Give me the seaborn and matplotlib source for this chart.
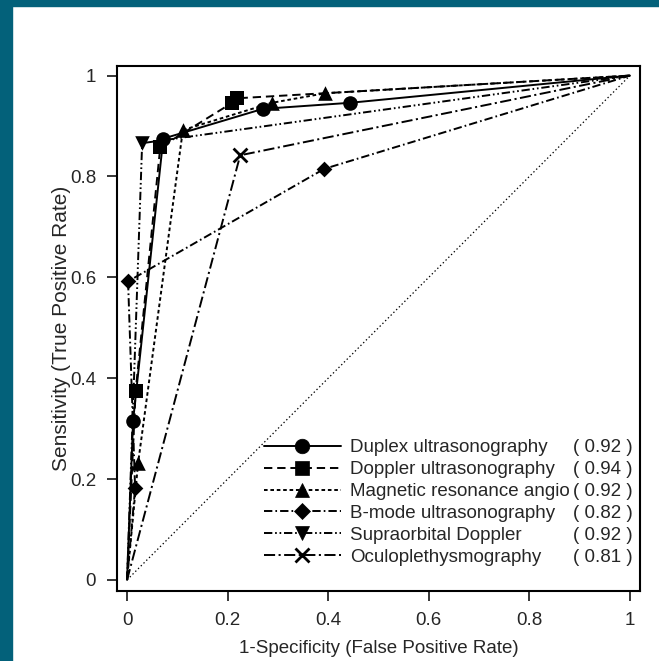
import matplotlib
matplotlib.use("Agg")
import matplotlib.pyplot as plt
from matplotlib.lines import Line2D
from matplotlib.patches import Rectangle
import seaborn as sns
import pandas as pd

# ROC operating points per test (false positive rate, true positive rate)
tests = [
    "Duplex ultrasonography",
    "Doppler ultrasonography",
    "Magnetic resonance angio",
    "B-mode ultrasonography",
    "Supraorbital Doppler",
    "Oculoplethysmography",
]
auc = [0.92, 0.94, 0.92, 0.82, 0.92, 0.81]

duplex_fpr = [0.0, 0.012, 0.072, 0.270, 0.443, 1.0]
duplex_tpr = [0.0, 0.316, 0.875, 0.934, 0.946, 1.0]

doppler_fpr = [0.0, 0.017, 0.066, 0.209, 0.219, 1.0]
doppler_tpr = [0.0, 0.374, 0.858, 0.946, 0.955, 1.0]

mra_fpr = [0.0, 0.022, 0.111, 0.288, 0.394, 1.0]
mra_tpr = [0.0, 0.232, 0.892, 0.946, 0.965, 1.0]

bmode_fpr = [0.0, 0.016, 0.002, 0.392, 1.0]
bmode_tpr = [0.0, 0.182, 0.592, 0.815, 1.0]

supra_fpr = [0.0, 0.030, 1.0]
supra_tpr = [0.0, 0.866, 1.0]

oculo_fpr = [0.0, 0.225, 1.0]
oculo_tpr = [0.0, 0.842, 1.0]

x_ticks = [0, 0.2, 0.4, 0.6, 0.8, 1]
y_ticks = [0, 0.2, 0.4, 0.6, 0.8, 1]
tick_labels = ["0", "0.2", "0.4", "0.6", "0.8", "1"]

series = [
    (duplex_fpr, duplex_tpr, "o", "-", 10.5),
    (doppler_fpr, doppler_tpr, "s", (0, (6, 3.5)), 9.5),
    (mra_fpr, mra_tpr, "^", (0, (2.6, 2)), 10.5),
    (bmode_fpr, bmode_tpr, "D", (0, (6, 2.2, 1.2, 2.2)), 8),
    (supra_fpr, supra_tpr, "v", (0, (6, 2, 1.2, 2, 1.2, 2)), 10.5),
    (oculo_fpr, oculo_tpr, "x", (0, (8, 2.5, 1.5, 2.5)), 10),
]

sns.set_style("white")
plt.rcParams["font.family"] = ["Liberation Sans", "DejaVu Sans"]
plt.rcParams["lines.scale_dashes"] = False

W, H = 659, 661
fig = plt.figure(figsize=(W / 100, H / 100), dpi=100)
ax = fig.add_axes([117 / W, 1 - 591 / H, 523 / W, 525 / H])

# chance diagonal
ax.plot([0, 1], [0, 1], color="black", lw=0.9, linestyle=(0, (1, 1.8)))

handles = []
for (fpr, tpr, mk, ls, ms), name in zip(series, tests):
    df = pd.DataFrame({"fpr": fpr, "tpr": tpr})
    sns.lineplot(data=df, x="fpr", y="tpr", sort=False, estimator=None,
                 color="black", lw=1.4, linestyle=ls, ax=ax)
    inner = df.iloc[1:-1]
    sns.scatterplot(data=inner, x="fpr", y="tpr", marker=mk, color="black",
                    s=ms ** 2, linewidth=2.0 if mk == "x" else 0,
                    edgecolor="black", ax=ax, zorder=5)
    handles.append(Line2D([0], [0], color="black", lw=1.4, linestyle=ls,
                          marker=mk, markersize=ms,
                          markeredgewidth=2.0 if mk == "x" else 0.5))

ax.set_xlim(-0.020, 1.020)
ax.set_ylim(-0.022, 1.019)
ax.set_xticks(x_ticks)
ax.set_xticklabels(tick_labels)
ax.set_yticks(y_ticks)
ax.set_yticklabels(tick_labels)
ax.tick_params(axis="both", direction="out", length=7, width=1.1, color="black",
               labelsize=13.5, pad=8, left=True, bottom=True)
for sp in ax.spines.values():
    sp.set_color("black")
    sp.set_linewidth(1.5)

ax.set_xlabel("1-Specificity (False Positive Rate)", fontsize=13.5, labelpad=8)
ax.set_ylabel("Sensitivity (True Positive Rate)", fontsize=15, labelpad=-1)

leg = ax.legend(handles, tests, loc="lower left", bbox_to_anchor=(0.277, 0.045),
                frameon=False, fontsize=13.5, handlelength=4.1, handletextpad=0.5,
                labelspacing=0.25, borderpad=0, borderaxespad=0)

# shift the legend so its label column starts at x=350px and the last row sits at y=557px
fig.canvas.draw()
renderer = fig.canvas.get_renderer()
bb = leg.get_texts()[-1].get_window_extent(renderer)
dx = 350 - bb.x0
dy = (H - 557) - (bb.y0 + bb.y1) / 2
ax_bb = ax.get_window_extent(renderer)
leg.set_bbox_to_anchor((0.277 + dx / ax_bb.width, 0.045 + dy / ax_bb.height),
                       transform=ax.transAxes)

fig.canvas.draw()
inv = ax.transAxes.inverted()
for txt, a in zip(leg.get_texts(), auc):
    tb = txt.get_window_extent(renderer)
    yc = inv.transform((0, (tb.y0 + tb.y1) / 2))[1]
    ax.text(0.986, yc, f"( {a:.2f} )", transform=ax.transAxes, ha="right",
            va="center", fontsize=13.5)

# page border strips
border = "#03617A"
fig.patches.append(Rectangle((0, 0), 12 / W, 1, transform=fig.transFigure,
                             color=border, zorder=10))
fig.patches.append(Rectangle((0, 1 - 6 / H), 1, 6 / H,
                             transform=fig.transFigure, color=border, zorder=10))

fig.savefig("out.png", dpi=100)
